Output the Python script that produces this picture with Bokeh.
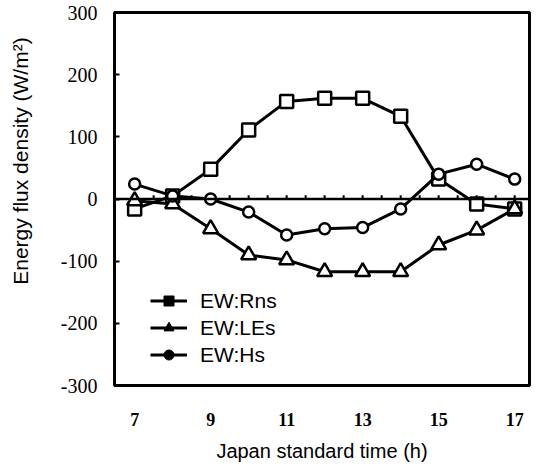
import numpy as np
from bokeh.plotting import figure
from bokeh.models import (FixedTicker, Span, Legend, LegendItem, Range1d,
                          ColumnDataSource)
from bokeh.embed import file_html
from bokeh.resources import INLINE

# ---- data ----
hours = [7, 8, 9, 10, 11, 12, 13, 14, 15, 16, 17]
rns = [-16, 5, 48, 111, 157, 162, 162, 133, 32, -8, -16]
les = [-3, -8, -48, -90, -98, -117, -117, -117, -74, -50, -16]
hs = [24, 5, 0, -21, -58, -48, -46, -16, 40, 56, 32]
series_names = ["EW:Rns", "EW:LEs", "EW:Hs"]
x_ticks = [7, 9, 11, 13, 15, 17]
y_ticks = [-300, -200, -100, 0, 100, 200, 300]
y_tick_labels = ["-300", "-200", "-100", "0", "100", "200", "300"]
x_title = "Japan standard time (h)"
y_title = "Energy flux  density (W/m\u00b2)"

p = figure(frame_width=415, frame_height=373,
           x_range=Range1d(6.47, 17.39), y_range=Range1d(-300, 300),
           output_backend="svg", toolbar_location=None,
           min_border_left=114, min_border_right=8, min_border_top=12,
           min_border_bottom=0, background_fill_color="white",
           border_fill_color="white")
p.grid.visible = False
p.outline_line_color = "black"
p.outline_line_width = 3
p.outline_line_alpha = 1

# axes
xa = p.xaxis[0]
xa.ticker = FixedTicker(ticks=x_ticks)
xa.axis_line_color = None
xa.major_tick_line_color = None
xa.minor_tick_line_color = None
xa.major_label_standoff = 21
xa.major_label_text_font = "Liberation Serif"
xa.major_label_text_font_style = "bold"
xa.major_label_text_font_size = "18px"
xa.major_label_text_color = "black"
xa.axis_label = x_title
xa.axis_label_standoff = 11
xa.axis_label_text_font = "Liberation Sans"
xa.axis_label_text_font_style = "normal"
xa.axis_label_text_font_size = "20px"
xa.axis_label_text_color = "black"

ya = p.yaxis[0]
ya.ticker = FixedTicker(ticks=y_ticks)
ya.major_label_overrides = {t: s for t, s in zip(y_ticks, y_tick_labels)}
ya.axis_line_color = None
ya.major_tick_in = 5
ya.major_tick_out = 0
ya.major_tick_line_width = 2
ya.major_tick_line_color = "black"
ya.minor_tick_line_color = None
ya.major_label_standoff = 17
ya.major_label_text_font = "Liberation Serif"
ya.major_label_text_font_size = "20px"
ya.major_label_text_color = "black"
# leading no-break spaces push the centred title toward the top, as in the original
ya.axis_label = "\u00a0" * 14 + y_title
ya.axis_label_standoff = 26
ya.axis_label_text_font = "Liberation Sans"
ya.axis_label_text_font_style = "normal"
ya.axis_label_text_font_size = "21px"
ya.axis_label_text_color = "black"

# zero line with small tick dots
p.add_layout(Span(location=0, dimension="width", line_color="black",
                  line_width=2.5))
half_hours = np.arange(hours[0], hours[-1] + 0.25, 0.5)
p.segment(x0=half_hours, y0=np.zeros(len(half_hours)), x1=half_hours,
          y1=np.full(len(half_hours), 6.0), line_color="black", line_width=2)

# series
styles = [("square", 13), ("triangle", 15), ("circle", 11)]
for vals, (mk, sz) in zip([rns, les, hs], styles):
    src = ColumnDataSource(dict(x=hours, y=vals))
    p.line("x", "y", source=src, line_color="black", line_width=3)
    p.scatter("x", "y", source=src, marker=mk, size=sz, fill_color="white",
              line_color="black", line_width=2.5)

# legend proxies (filled markers), not drawn in the plot area
items = []
for name, (mk, sz) in zip(series_names, styles):
    src = ColumnDataSource(dict(x=[np.nan], y=[np.nan]))
    r1 = p.line("x", "y", source=src, line_color="black", line_width=3)
    r2 = p.scatter("x", "y", source=src, marker=mk, size=sz, fill_color="black",
                   line_color="black", line_width=1)
    items.append(LegendItem(label=name, renderers=[r1, r2]))

legend = Legend(items=items, location=(36, 18), padding=0, margin=0,
                border_line_color=None, background_fill_alpha=0,
                glyph_width=37, glyph_height=25, label_height=20,
                label_standoff=13, spacing=2,
                label_text_font="Liberation Sans", label_text_font_size="21px",
                label_text_color="black")
p.add_layout(legend, "center")

open("out.html", "w").write(file_html(p, INLINE))
